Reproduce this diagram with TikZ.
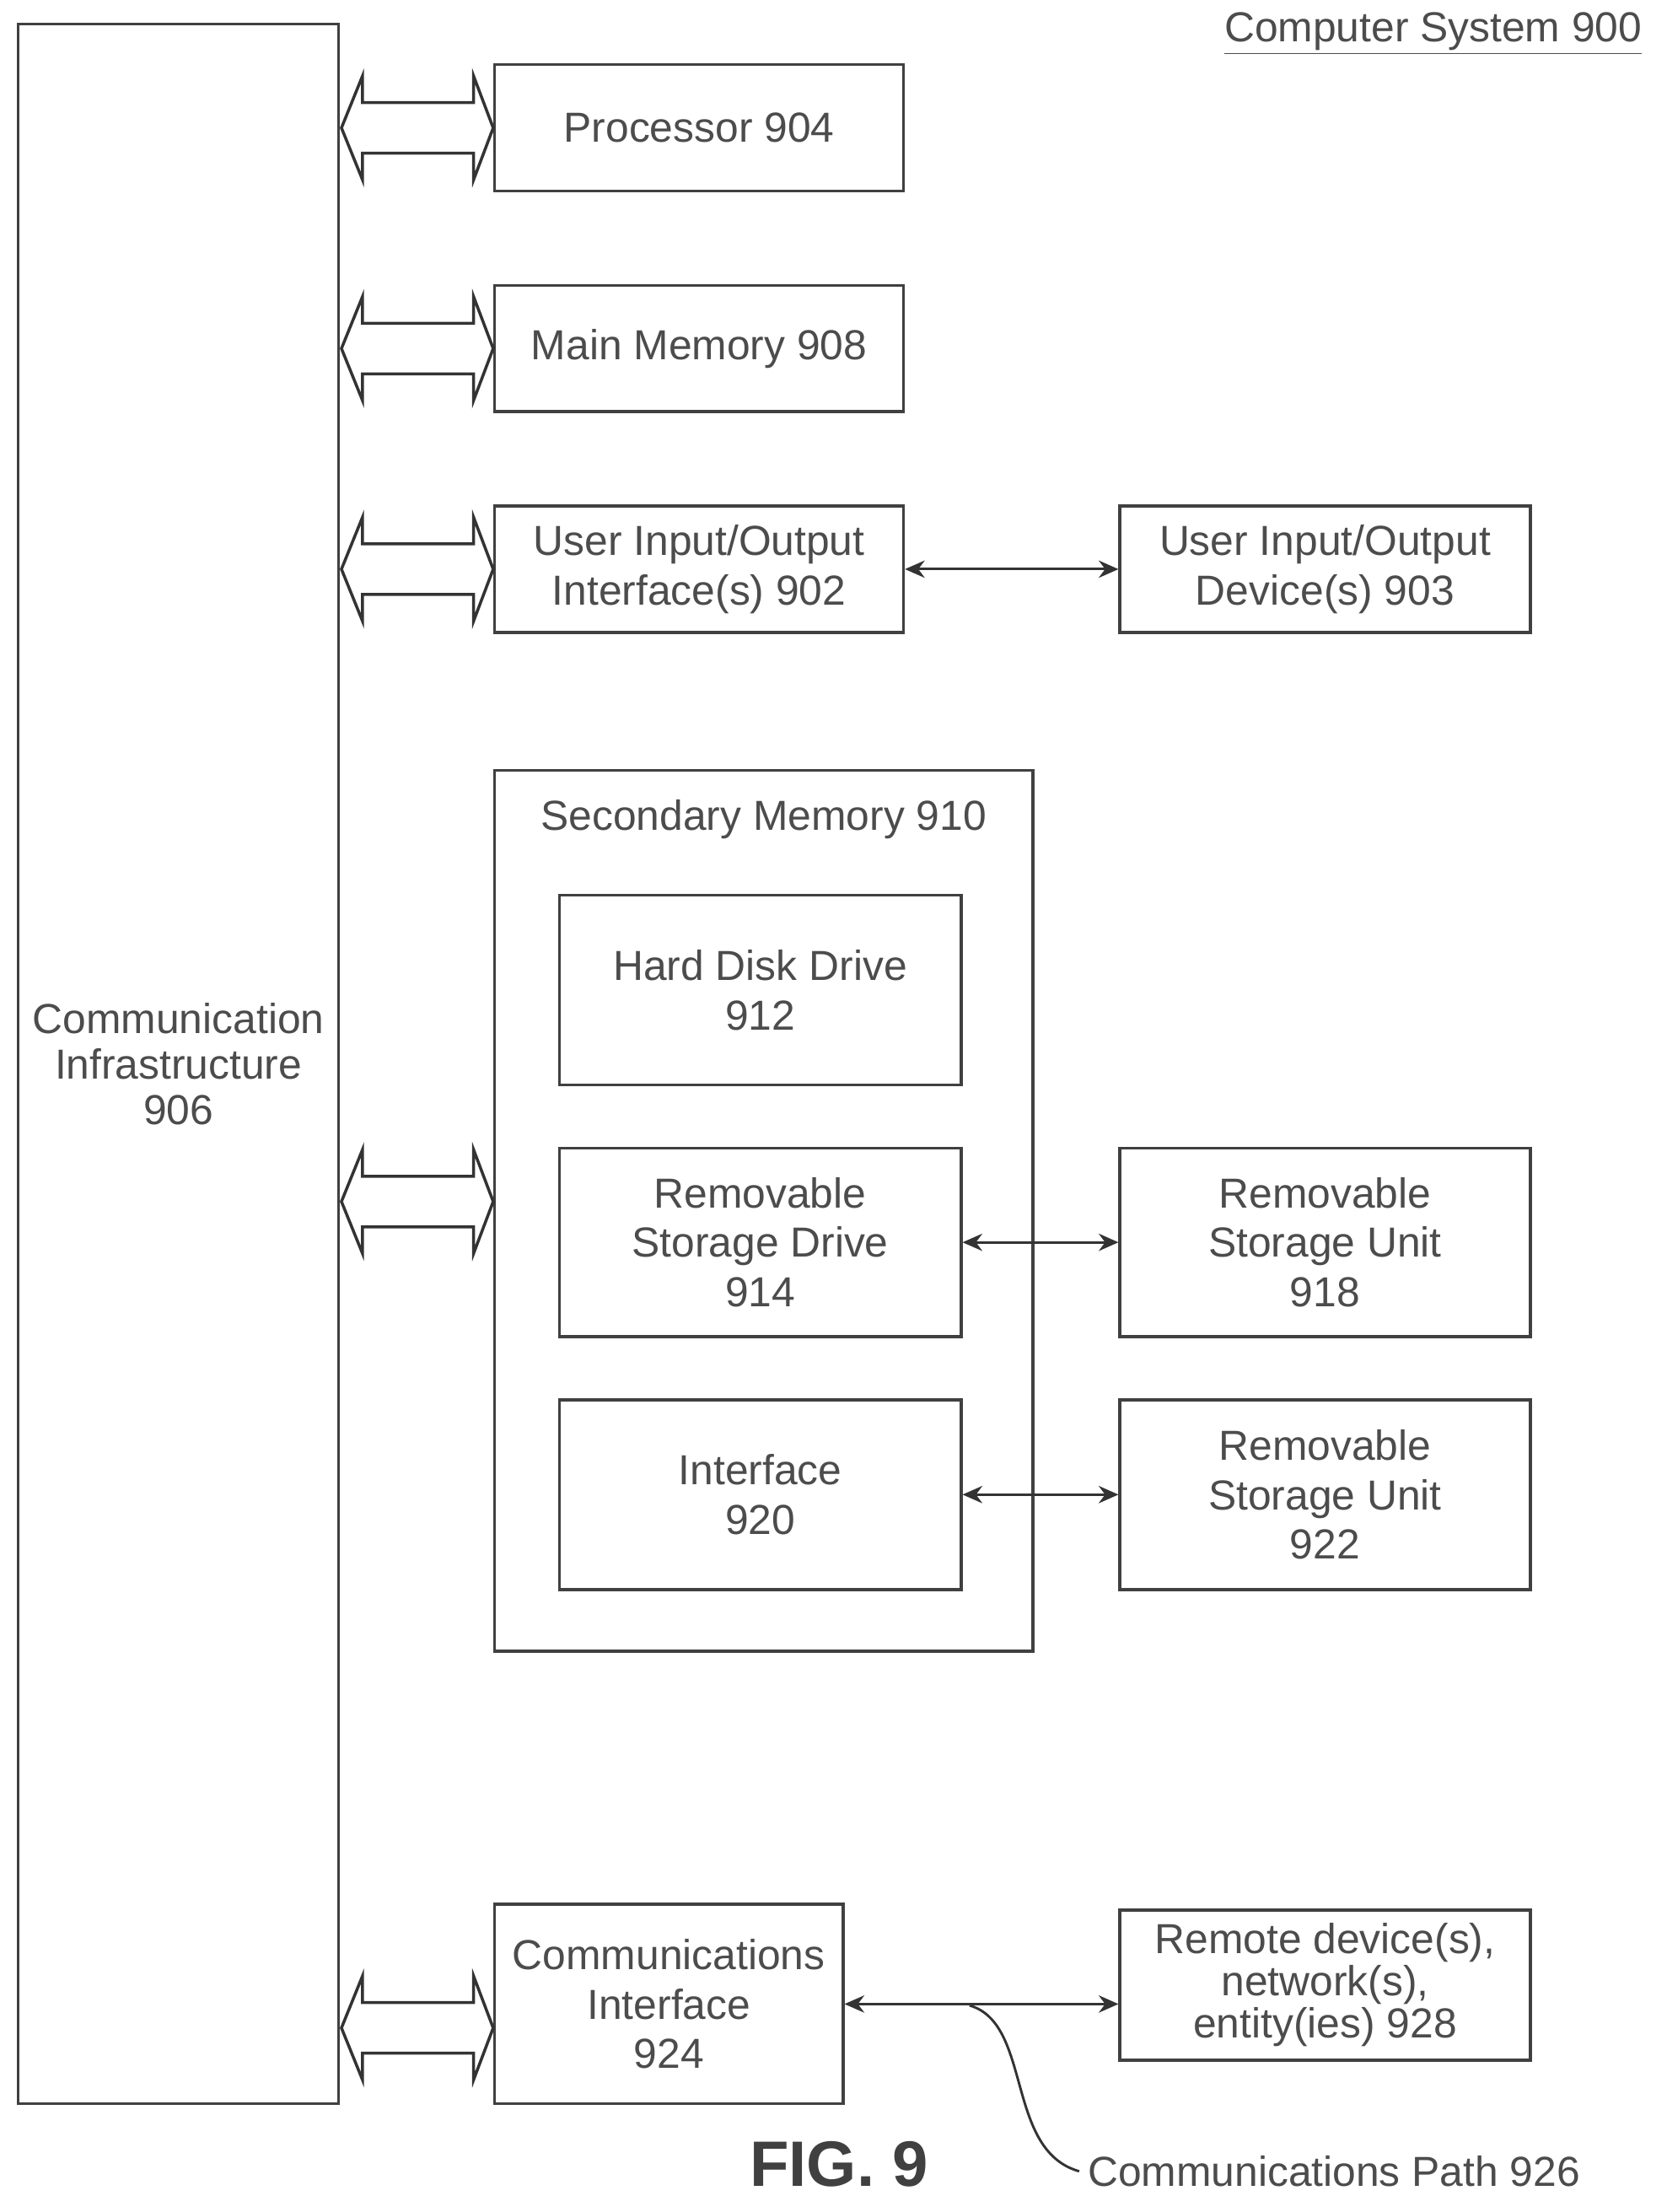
\documentclass[tikz,border=0pt]{standalone}
\usepackage{fontspec}
\setmainfont{Liberation Sans}
\usetikzlibrary{arrows.meta}
\begin{document}
\begin{tikzpicture}[x=0.02cm,y=-0.02cm,
  box/.style={draw=black!75,line width=1.2pt,align=center,text=black!70,font=\fontsize{17}{20}\selectfont,inner sep=2pt},
  small/.style={{Stealth[length=8pt,width=7pt]}-{Stealth[length=8pt,width=7pt]},line width=1pt,draw=black!80},
  big/.style={draw=black!80,line width=1.2pt,fill=white}]
\useasboundingbox (0,0) rectangle (1186,1574);
\node[box,minimum width=4.56cm,minimum height=29.6cm,font=\fontsize{17}{18.5}\selectfont] (infra) at (127,757) {Communication\\Infrastructure\\906};
\node[box,minimum width=5.82cm,minimum height=1.8cm] (proc) at (497.5,91) {Processor 904};
\node[box,minimum width=5.82cm,minimum height=1.8cm] (mem) at (497.5,248) {Main Memory 908};
\node[box,minimum width=5.82cm,minimum height=1.8cm] (uioi) at (497.5,405) {User Input/Output\\Interface(s) 902};
\node[box,minimum width=5.84cm,minimum height=1.8cm] (uiod) at (943,405) {User Input/Output\\Device(s) 903};
\node[box,minimum width=7.66cm,minimum height=12.54cm] (sec) at (543.5,861.5) {};
\node[text=black!70,font=\fontsize{17}{20}\selectfont] (seclbl) at (543.5,583) {Secondary Memory 910};
\node[box,minimum width=5.72cm,minimum height=2.7cm] (hdd) at (541,704.5) {Hard Disk Drive\\912};
\node[box,minimum width=5.72cm,minimum height=2.68cm] (rsd) at (541,884) {Removable\\Storage Drive\\914};
\node[box,minimum width=5.72cm,minimum height=2.7cm] (if) at (541,1063.5) {Interface\\920};
\node[box,minimum width=5.84cm,minimum height=2.68cm] (rsu1) at (943,884) {Removable\\Storage Unit\\918};
\node[box,minimum width=5.84cm,minimum height=2.7cm] (rsu2) at (943,1063.5) {Removable\\Storage Unit\\922};
\node[box,minimum width=4.96cm,minimum height=2.84cm] (ci) at (476,1426) {Communications\\Interface\\924};
\node[box,minimum width=5.84cm,minimum height=2.14cm,font=\fontsize{17}{17}\selectfont] (rem) at (943,1412.5) {Remote device(s),\\network(s),\\entity(ies) 928};
\node[text=black!70,font=\fontsize{17}{18}\selectfont] (title) at (1020,24) {\underline{Computer System 900}};
\node[text=black!75,font=\bfseries\fontsize{26}{28}\selectfont] (fig) at (597,1540) {FIG. 9};
\node[text=black!70,font=\fontsize{17}{18}\selectfont,anchor=west] (path) at (768,1545) {Communications Path 926};
\foreach \yc in {91,248,405,855,1443}{
  \draw[big] (243,\yc) -- (258,\yc-37) -- (258,\yc-18) -- (337,\yc-18) -- (337,\yc-37) -- (351,\yc) -- (337,\yc+37) -- (337,\yc+18) -- (258,\yc+18) -- (258,\yc+37) -- cycle;
}
\draw[small] (uioi.east) -- (uiod.west);
\draw[small] (rsd.east) -- (rsu1.west);
\draw[small] (if.east) -- (rsu2.west);
\draw[small] (ci.east) -- (ci.east -| rem.west);
\coordinate (p0) at (690,1427);
\draw[line width=1pt,black!80] (p0) .. controls (735,1440) and (715,1530) .. (path.west);
\end{tikzpicture}
\end{document}
